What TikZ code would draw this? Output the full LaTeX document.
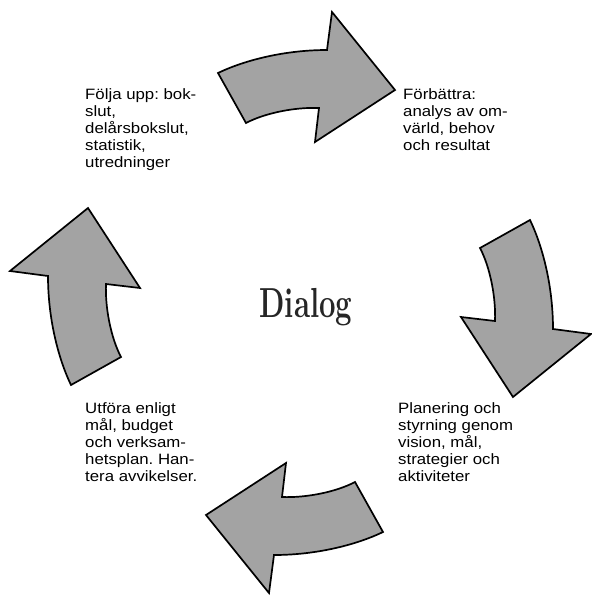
\documentclass[tikz,border=0pt]{standalone}
\usepackage{fontspec}
\newfontfamily\labfont{Liberation Sans}[FakeStretch=1.12]
\newfontfamily\dialogfont{Latin Modern Roman}
\frenchspacing
\begin{document}
\begin{tikzpicture}[x=1pt,y=-1pt,
  cyc/.style={draw=black, line width=1.7pt, fill=black!36, line join=miter},
  lab/.style={anchor=north west, inner sep=0pt, align=left, text=black,
    font=\labfont\fontsize{15}{17}\selectfont}]
\useasboundingbox (0,0) rectangle (592,598);
\foreach \a in {0,-90,-180,-270}{
  \draw[cyc, rotate around={\a:(300.5,302.5)}]
    (218,73) .. controls (245,60) and (285,50) .. (327,50)
    -- (332,12) -- (395,90) -- (315,142) -- (319,108)
    .. controls (295,107) and (265,113) .. (246,123) -- cycle;
}
\node[lab] (tl) at (85,88) {Följa upp: bok-\\slut,\\delårsbokslut,\\statistik,\\utredninger};
\node[lab] (tr) at (403,88) {Förbättra:\\analys av om-\\värld, behov\\och resultat};
\node[lab] (br) at (398,402) {Planering och\\styrning genom\\vision, mål,\\strategier och\\aktiviteter};
\node[lab] (bl) at (85,402) {Utföra enligt\\mål, budget\\och verksam-\\hetsplan. Han-\\tera avvikelser.};
\node[anchor=base, inner sep=0pt, text=black!85] (dia) at (306,317)
  {\scalebox{0.7}[1]{\dialogfont\bfseries\fontsize{42}{42}\selectfont Dialog}};
\end{tikzpicture}
\end{document}
